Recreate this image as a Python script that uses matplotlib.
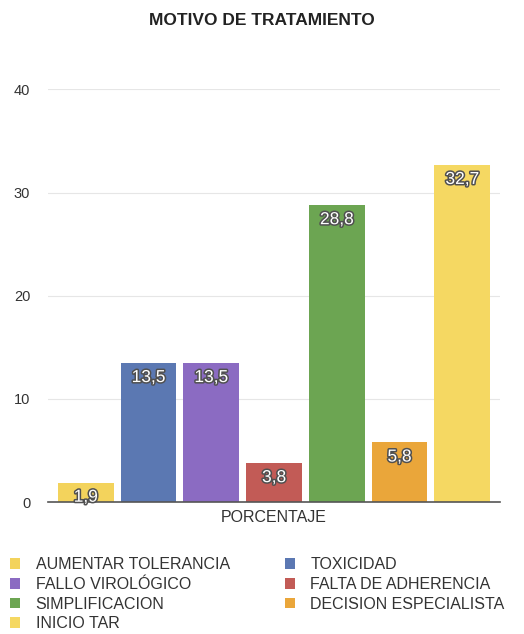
import matplotlib
matplotlib.use("Agg")
import matplotlib.pyplot as plt
import matplotlib.patheffects as pe
from matplotlib.patches import Patch
import numpy as np

plt.rcParams['font.family'] = ['Liberation Sans', 'DejaVu Sans']

categories = ["AUMENTAR TOLERANCIA", "TOXICIDAD", "FALLO VIROLÓGICO",
              "FALTA DE ADHERENCIA", "SIMPLIFICACION", "DECISION ESPECIALISTA",
              "INICIO TAR"]
values = [1.9, 13.5, 13.5, 3.8, 28.8, 5.8, 32.7]
value_labels = ["1,9", "13,5", "13,5", "3,8", "28,8", "5,8", "32,7"]
colors = ["#f3d35c", "#5b78b2", "#8b6bc2", "#c25b56", "#6ca552", "#eaa63a", "#f5d862"]
yticks = [0, 10, 20, 30, 40]
title = "MOTIVO DE TRATAMIENTO"
xlabel = "PORCENTAJE"

fig = plt.figure(figsize=(5.24, 6.34), dpi=100)
ax = fig.add_axes([0.092, 0.208, 0.862, 0.651])

x = np.arange(len(values))
bars = ax.bar(x, values, width=0.89, color=colors, zorder=3)

for xi, v, lab in zip(x, values, value_labels):
    ax.text(xi, v - 0.7, lab, ha='center', va='top', fontsize=12.5, color='white',
            zorder=5, path_effects=[pe.withStroke(linewidth=2.2, foreground='#505050')])

ax.set_xlim(-0.6, len(values) - 0.4)
ax.set_ylim(0, 40)
ax.set_yticks(yticks)
ax.set_yticklabels([str(t) for t in yticks], fontsize=10.5, color='#333333')
ax.tick_params(axis='y', length=0, pad=13)
ax.set_xticks([])
for s in ['top', 'right', 'left']:
    ax.spines[s].set_visible(False)
ax.spines['bottom'].set_color('#555555')
ax.spines['bottom'].set_linewidth(1.2)
ax.spines['bottom'].set_zorder(4)
ax.grid(axis='y', color='#e6e6e6', linewidth=0.8, zorder=0)
ax.set_axisbelow(True)
ax.set_xlabel(xlabel, fontsize=11.5, color='#333333', labelpad=6)

fig.text(0.5, 0.968, title, ha='center', va='center', fontsize=12.5,
         fontweight='bold', color='#222222')

handles = [Patch(facecolor=c, edgecolor='none') for c in colors]
order = [0, 2, 4, 6, 1, 3, 5]
leg = fig.legend([handles[i] for i in order], [categories[i] for i in order],
                 ncol=2, loc='upper left', bbox_to_anchor=(10 / 524, 1 - 557 / 634),
                 frameon=False, fontsize=11.5, handlelength=0.65, handleheight=0.65,
                 handletextpad=0.95, columnspacing=3.45, labelspacing=0.3,
                 borderaxespad=0, borderpad=0)
for t in leg.get_texts():
    t.set_color('#333333')

fig.savefig("out.png", dpi=100, facecolor='white')
